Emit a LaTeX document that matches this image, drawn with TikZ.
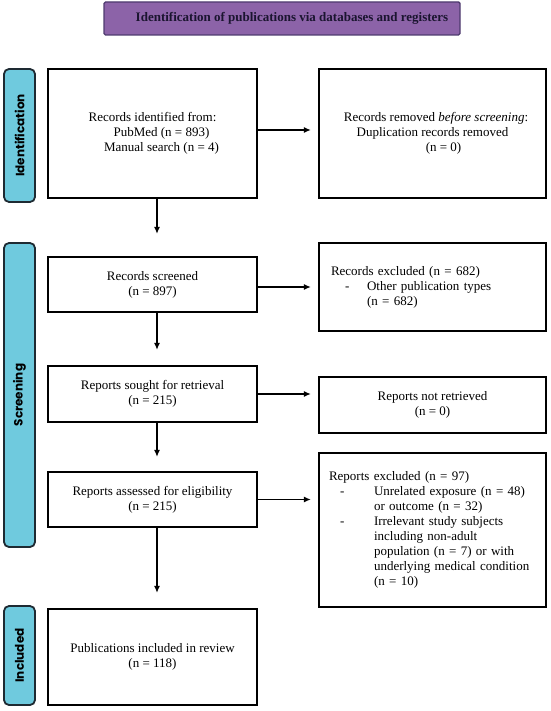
\documentclass[tikz,border=0pt]{standalone}
\usepackage{fontspec}
\setmainfont{Liberation Serif}
\newfontfamily\tabfont{Poppins}
\usetikzlibrary{arrows.meta}
\definecolor{bannerfill}{HTML}{8C63A8}
\definecolor{bannerdraw}{HTML}{4E3A6E}
\definecolor{bannertext}{HTML}{1B1530}
\definecolor{tabfill}{HTML}{6FCADE}
\definecolor{tabdraw}{HTML}{1E2A32}
\begin{document}
\begin{tikzpicture}[x=1pt,y=-1pt,
  box/.style={draw=black, line width=2.2pt, rectangle, fill=white,
    font=\fontsize{13}{15}\selectfont, align=center, inner sep=0pt},
  lbox/.style={box, align=left, inner xsep=#1, text width=227pt-2*#1},
  tabbox/.style={draw=tabdraw, fill=tabfill, line width=1.8pt, rounded corners=5pt,
    inner sep=0pt, rotate=90, minimum height=31pt,
    font=\tabfont\bfseries\fontsize{12}{14}\selectfont},
  banner/.style={draw=bannerdraw, fill=bannerfill, line width=1.4pt, rounded corners=1.5pt,
    inner sep=0pt, text=bannertext, font=\bfseries\fontsize{13}{15}\selectfont},
  arr/.style={line width=1.3pt, -{Latex[length=7pt,width=6pt]}},
  lw/.style={minimum width=209pt},
  rw/.style={minimum width=227pt}
]
\useasboundingbox (0,0) rectangle (550,711);

% banner
\node[banner, minimum width=356pt, minimum height=33pt] (ban) at (282,18.5)
  {\hspace*{20pt}Identification of publications via databases and registers};

% side tabs
\node[tabbox, minimum width=133pt] (tid) at (19.5,135.5) {Identification};
\node[tabbox, minimum width=304pt] (tscr) at (19.5,395) {Screening};
\node[tabbox, minimum width=99pt] (tinc) at (19.5,655.5) {Included};

% left column
\node[box, lw, minimum height=129pt] (idf) at (152.5,133.5)
  {Records identified from:\\\hspace*{18pt}PubMed (n = 893)\\\hspace*{18pt}Manual search (n = 4)};
\node[box, lw, minimum height=55pt] (scr) at (152.5,284.5)
  {Records screened\\(n = 897)};
\node[box, lw, minimum height=56pt] (sou) at (152.5,394)
  {Reports sought for retrieval\\(n = 215)};
\node[box, lw, minimum height=55pt] (ass) at (152.5,499.5)
  {Reports assessed for eligibility\\(n = 215)};
\node[box, lw, minimum height=96pt] (pub) at (152.5,657)
  {Publications included in review\\(n = 118)};

% right column
\node[box, rw, minimum height=129pt] (rem) at (432.5,133.5)
  {\hspace*{7pt}Records removed \emph{before screening}:\\Duplication records removed\\\hspace*{22pt}(n = 0)};
\node[lbox=12pt, minimum height=88pt] (exc) at (432.5,287)
  {Records excluded (n = 682)\\
   \hspace*{14pt}\makebox[22pt][l]{-}Other publication types\\
   \hspace*{36pt}(n = 682)};
\node[box, rw, minimum height=56pt] (ret) at (432.5,405)
  {Reports not retrieved\\(n = 0)};
\node[lbox=10pt, minimum height=154pt] (rep) at (432.5,530)
  {Reports excluded (n = 97)\\
   \hspace*{11pt}\makebox[34pt][l]{-}Unrelated exposure (n = 48)\\
   \hspace*{45pt}or outcome (n = 32)\\
   \hspace*{11pt}\makebox[34pt][l]{-}Irrelevant study subjects\\
   \hspace*{45pt}including non-adult\\
   \hspace*{45pt}population (n = 7) or with\\
   \hspace*{45pt}underlying medical condition\\
   \hspace*{45pt}(n = 10)};

% vertical arrows
\draw[arr, shorten >=22pt] ([xshift=4.5pt]idf.south) -- ([xshift=4.5pt]scr.north);
\draw[arr, shorten >=15pt] ([xshift=4.5pt]scr.south) -- ([xshift=4.5pt]sou.north);
\draw[arr, shorten >=14pt] ([xshift=4.5pt]sou.south) -- ([xshift=4.5pt]ass.north);
\draw[arr, shorten >=15pt] ([xshift=4.5pt]ass.south) -- ([xshift=4.5pt]pub.north);

% horizontal arrows
\draw[arr, shorten >=7pt] ([yshift=3.5pt]idf.east) -- ([yshift=3.5pt]rem.west);
\draw[arr, shorten >=7pt] (scr.east |- exc.west) -- (exc.west);
\draw[arr, shorten >=7pt] (sou.east) -- (sou.east -| ret.west);
\draw[arr, shorten >=7pt] (ass.east) -- (ass.east -| rep.west);
\end{tikzpicture}
\end{document}
